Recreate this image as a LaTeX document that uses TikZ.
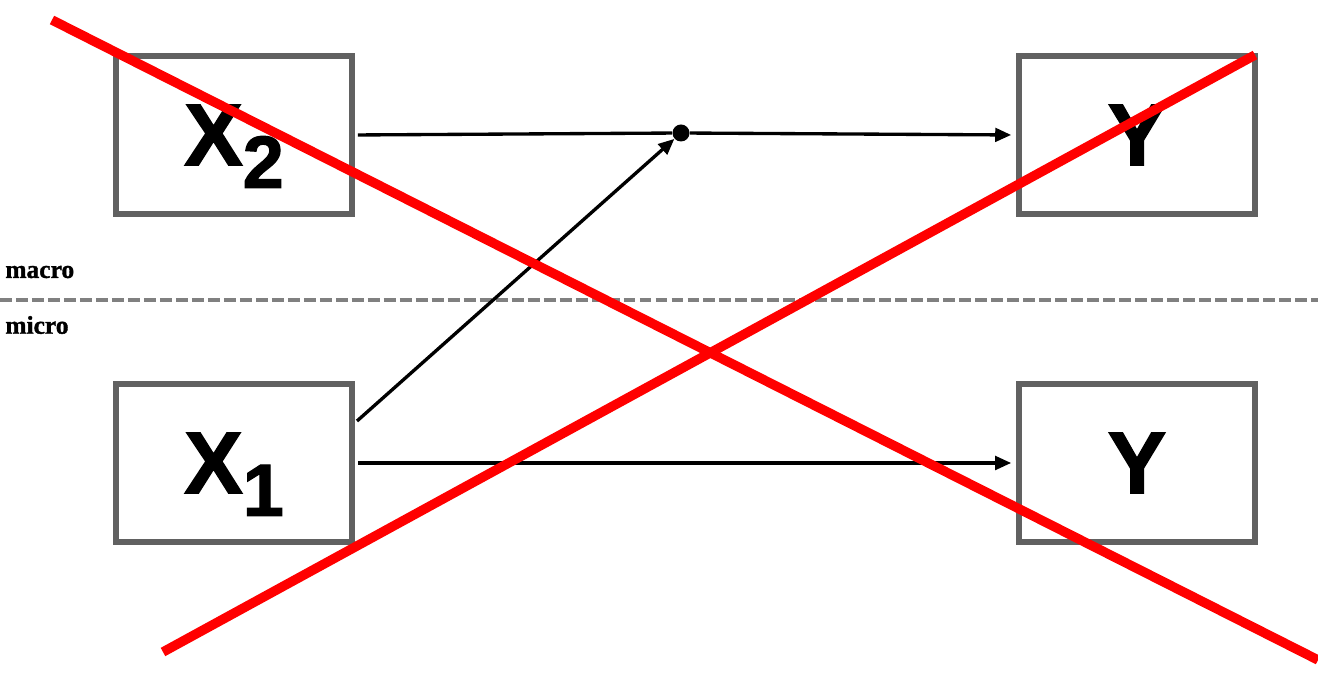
\documentclass[tikz,border=0pt]{standalone}
\usepackage{fontspec}
\setsansfont{Liberation Sans}[BoldFeatures={FakeBold=1.6}]
\newfontfamily\lvlfont{Liberation Serif}[BoldFeatures={FakeBold=1.4}]
\usetikzlibrary{arrows.meta}

\begin{document}
\begin{tikzpicture}[x=0.02cm,y=0.02cm,
  box/.style={draw=black!62,line width=3.2pt,minimum width=4.72cm,
    minimum height=3.16cm,inner sep=0pt,font=\sffamily\bfseries\fontsize{50}{50}\selectfont},
  arr/.style={-{Triangle[length=0.32cm,width=0.27cm]},line width=1.9pt},
  lvl/.style={anchor=west,inner sep=0pt,font=\lvlfont\bfseries\fontsize{14.5}{15}\selectfont},
  cross/.style={red,line width=5.4pt}]
\useasboundingbox (0,0) rectangle (1318,692);
\node[box] (X2) at (234,557) {\raisebox{-0.1cm}{X}\smash{\raisebox{-0.55cm}{\fontsize{42}{42}\selectfont 2}}};
\node[box] (Yma) at (1137,557) {Y};
\node[box] (X1) at (234,229) {\raisebox{-0.1cm}{X}\smash{\raisebox{-0.55cm}{\fontsize{42}{42}\selectfont 1}}};
\node[box] (Ymi) at (1137,229) {Y};
\draw[black!50,line width=2pt,dash pattern=on 6.8pt off 2.3pt] (0,392) -- (1318,392);
\node[lvl] (ma) at (5,420) {macro};
\node[lvl] (mi) at (5,367) {micro};
\node[circle,fill=black,inner sep=0pt,minimum size=0.34cm] (dot) at (681,559) {};
\draw[line width=1.9pt,shorten <=0.06cm] (X2.east) -- (dot);
\draw[arr,shorten >=0.1cm] (dot) -- (Yma.west);
\draw[arr,shorten <=0.06cm] ([yshift=0.8cm]X1.east) -- (dot);
\draw[arr,shorten <=0.06cm,shorten >=0.1cm] (X1.east) -- (Ymi.west);
% crossing out
\coordinate (c1) at (52,672);
\coordinate (c2) at (1318,32);
\coordinate (c3) at (163,40);
\coordinate (c4) at (1255,637);
\draw[cross] (c1) -- (c2);
\draw[cross] (c3) -- (c4);
\end{tikzpicture}
\end{document}
